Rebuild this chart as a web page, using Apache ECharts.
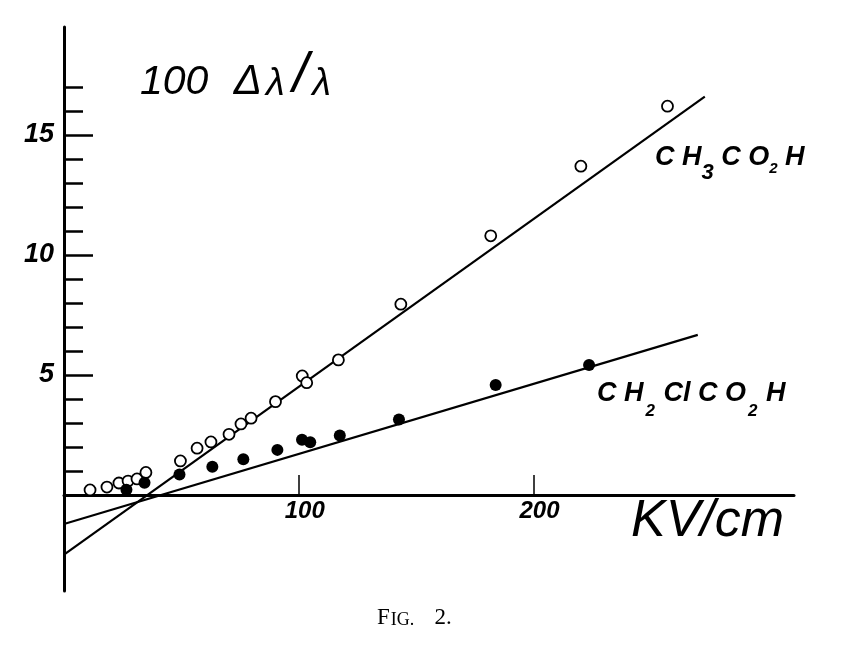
<!DOCTYPE html>
<html>
<head>
<meta charset="utf-8">
<script src="https://cdn.jsdelivr.net/npm/echarts@6/dist/echarts.min.js"></script>
<style>
html,body{margin:0;padding:0;background:#fff;}
#chart{width:853px;height:647px;}
</style>
</head>
<body>
<div id="chart"></div>
<script>
// ---- data ----
const xTickValues = [100, 200];
const yMajorTicks = [5, 10, 15];
const yMinorTicks = [1, 2, 3, 4, 6, 7, 8, 9, 11, 12, 13, 14, 16, 17];

// CH3CO2H (open circles): [kV/cm, 100 Δλ/λ]
const ch3Points = [
  [11.1, 0.21], [18.3, 0.33], [23.4, 0.50], [27.3, 0.58], [31.1, 0.67],
  [34.9, 0.94], [49.6, 1.42], [56.7, 1.95], [62.6, 2.21], [70.3, 2.53],
  [75.4, 2.96], [79.7, 3.20], [90.1, 3.89], [101.5, 4.96], [103.4, 4.68],
  [116.9, 5.63], [143.5, 7.95], [181.8, 10.8], [220.2, 13.7], [257.1, 16.2]
];
// CH2ClCO2H (filled circles)
const ch2clPoints = [
  [26.6, 0.22], [34.3, 0.51], [49.2, 0.85], [63.2, 1.18], [76.4, 1.49],
  [90.9, 1.88], [101.4, 2.30], [104.9, 2.20], [117.5, 2.48], [142.7, 3.15],
  [183.9, 4.58], [223.7, 5.42]
];
// drawn straight lines (end points)
const ch3Line = [[0, -2.48], [273, 16.6]];
const ch2clLine = [[0, -1.21], [270, 6.67]];

const handFont = 'Liberation Sans';
const Y_MIN = -4, Y_MAX = 19.5;

const chart = echarts.init(document.getElementById('chart'), null, {renderer: 'canvas'});

chart.setOption({
  backgroundColor: '#fff',
  animation: false,
  grid: {left: 64, right: 59, top: 27, bottom: 56, containLabel: false},
  xAxis: {
    type: 'value', min: 0, max: 311, interval: 100,
    position: 'bottom', offset: -96,
    axisLine: {show: true, onZero: false, lineStyle: {color: '#000', width: 3}},
    axisTick: {show: true, inside: true, length: 20, customValues: xTickValues,
               lineStyle: {color: '#000', width: 1.5}},
    axisLabel: {show: true, customValues: xTickValues, margin: 4,
                fontFamily: handFont, fontStyle: 'italic', fontWeight: 'bold',
                fontSize: 24, color: '#000', padding: [0, 0, 0, 12]},
    splitLine: {show: false}
  },
  yAxis: [
    {
      type: 'value', min: Y_MIN, max: Y_MAX, interval: 1,
      axisLine: {show: true, onZero: false, lineStyle: {color: '#000', width: 3}},
      axisTick: {show: true, inside: true, length: 29, customValues: yMajorTicks,
                 lineStyle: {color: '#000', width: 2.5}},
      axisLabel: {show: true, customValues: yMajorTicks, margin: 10,
                  fontFamily: handFont, fontStyle: 'italic', fontWeight: 'bold',
                  fontSize: 27, color: '#000'},
      splitLine: {show: false}
    },
    {
      type: 'value', min: Y_MIN, max: Y_MAX, interval: 1, position: 'left',
      axisLine: {show: false},
      axisTick: {show: true, inside: true, length: 19, customValues: yMinorTicks,
                 lineStyle: {color: '#000', width: 2.5}},
      axisLabel: {show: false},
      splitLine: {show: false}
    }
  ],
  series: [
    {type: 'line', data: ch3Line, symbol: 'none', z: 2,
     lineStyle: {color: '#000', width: 2.2}},
    {type: 'line', data: ch2clLine, symbol: 'none', z: 2,
     lineStyle: {color: '#000', width: 2.2}},
    {type: 'scatter', data: ch3Points, symbol: 'circle', symbolSize: 11, z: 5,
     itemStyle: {color: '#fff', borderColor: '#000', borderWidth: 1.8, opacity: 1}},
    {type: 'scatter', data: ch2clPoints, symbol: 'circle', symbolSize: 12, z: 6,
     itemStyle: {color: '#000', opacity: 1}}
  ],
  graphic: [
    {type: 'text', left: 140, top: 47, z: 10,
     style: {
       text: '{n|100 }{d|Δ}{l|λ}{sl|/}{l|λ}',
       rich: {
         n: {fontFamily: handFont, fontStyle: 'italic', fontSize: 41, fill: '#000', padding: [0, 14, 0, 0], lineHeight: 56, verticalAlign: 'bottom'},
         d: {fontFamily: handFont, fontStyle: 'italic', fontSize: 42, fill: '#000', padding: [0, 2, 0, 0], lineHeight: 56, verticalAlign: 'bottom'},
         l: {fontFamily: handFont, fontStyle: 'italic', fontSize: 38, fill: '#000', padding: [0, 4, 0, 2], lineHeight: 56, verticalAlign: 'bottom'},
         sl: {fontFamily: handFont, fontStyle: 'italic', fontSize: 56, fill: '#000', padding: [0, 2, 0, 4], lineHeight: 56, verticalAlign: 'bottom'}
       }
     }},
    {type: 'text', left: 655, top: 144, z: 10,
     style: {
       text: '{m|C H}{s|3}{m| C O}{s2|2}{m| H}',
       rich: {
         m: {fontFamily: handFont, fontStyle: 'italic', fontWeight: 'bold', fontSize: 27, fill: '#000', lineHeight: 40, verticalAlign: 'top'},
         s: {fontFamily: handFont, fontStyle: 'italic', fontWeight: 'bold', fontSize: 22, fill: '#000', lineHeight: 40, verticalAlign: 'bottom'},
         s2: {fontFamily: handFont, fontStyle: 'italic', fontWeight: 'bold', fontSize: 15, fill: '#000', lineHeight: 40, verticalAlign: 'bottom', padding: [0, 0, 8, 0]}
       }
     }},
    {type: 'text', left: 597, top: 380, z: 10,
     style: {
       text: '{m|C H}{s|2}{m| Cl C O}{s|2}{m| H}',
       rich: {
         m: {fontFamily: handFont, fontStyle: 'italic', fontWeight: 'bold', fontSize: 27, fill: '#000', lineHeight: 40, verticalAlign: 'top'},
         s: {fontFamily: handFont, fontStyle: 'italic', fontWeight: 'bold', fontSize: 17, fill: '#000', lineHeight: 40, verticalAlign: 'bottom', padding: [0, 1, 0, 2]}
       }
     }},
    {type: 'text', left: 631, top: 496, z: 10,
     style: {text: 'KV/cm', fill: '#000', font: 'italic 52px "Liberation Sans"'}},
    {type: 'text', left: 377, top: 606, z: 10,
     style: {
       text: '{b|F}{s|IG.}{b|   2.}',
       rich: {
         b: {fontFamily: 'Liberation Serif', fontSize: 23, fill: '#000', verticalAlign: 'bottom', lineHeight: 28},
         s: {fontFamily: 'Liberation Serif', fontSize: 18, fill: '#000', verticalAlign: 'bottom', lineHeight: 28, padding: [0, 3, 0, 1]}
       }
     }}
  ]
});
</script>
</body>
</html>
